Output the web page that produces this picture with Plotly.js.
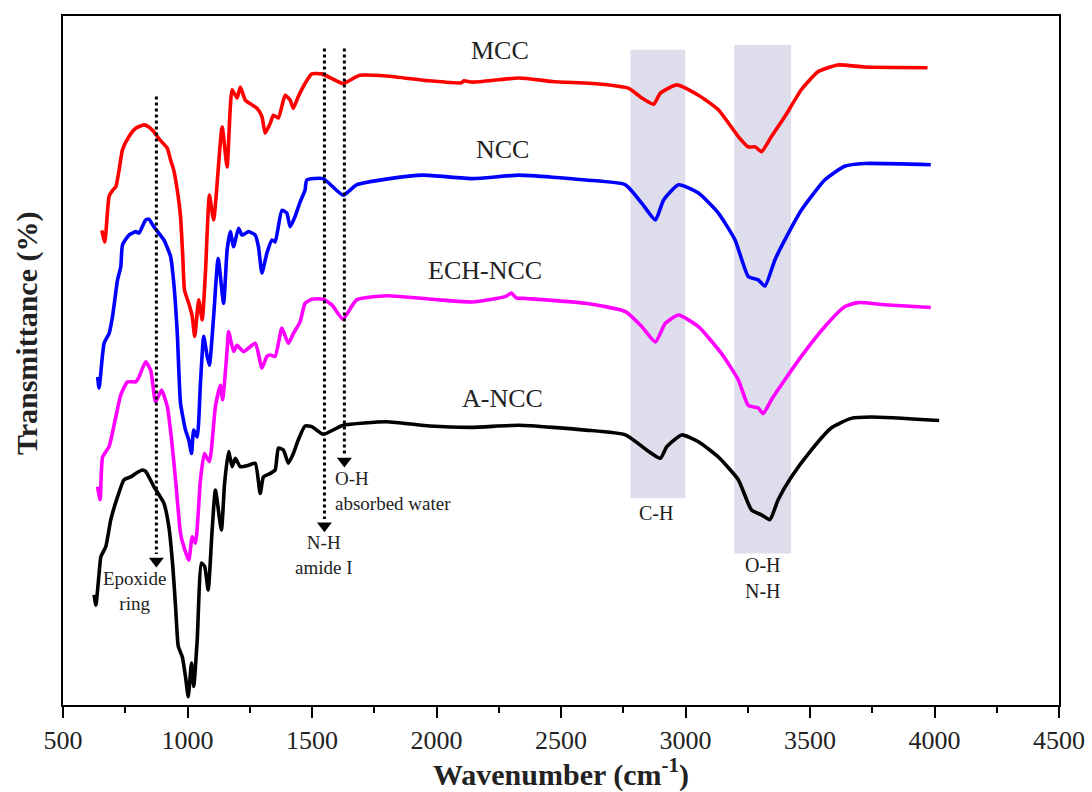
<!DOCTYPE html>
<html>
<head>
<meta charset="utf-8">
<script src="https://cdn.plot.ly/plotly-3.0.1.min.js"></script>
<style>html,body{margin:0;padding:0;background:#fff;}#chart{width:1092px;height:792px;}</style>
</head>
<body>
<div id="chart"></div>
<script>
// ---- Data (wavenumber cm-1, transmittance in arbitrary offset units) ----
const mccX = [656,668,685,699,712,725,739,765,792,825,845,865,885,919,932,945,959,972,981,988,1005,1019,1029,1045,1059,1072,1088,1105,1139,1159,1179,1199,1212,1232,1259,1279,1299,1312,1332,1345,1365,1392,1412,1425,1445,1472,1499,1539,1592,1625,1692,1799,1972,2100,2110,2145,2332,2465,2665,2772,2825,2872,2899,2965,3052,3132,3212,3252,3280,3305,3345,3399,3465,3532,3612,3719,3972];
const mccY = [68.9,67.2,73.8,74.7,75.2,77.6,80.6,82.5,83.7,84.2,83.9,83.2,82.2,80.8,79.1,77.6,74.7,70.9,65.1,60.2,58.3,56.4,53.5,58.8,55.9,62.7,74.0,70.4,83.9,78.1,89.3,88.1,89.7,87.8,87.1,86.6,85.4,83.0,84.4,85.6,85.2,88.5,87.8,86.6,88.3,90.2,91.6,91.6,90.7,90.2,91.4,91.3,90.6,90.3,90.6,90.4,91.0,90.5,90.1,89.5,88.1,87.2,88.8,90.0,88.5,86.4,82.5,81.0,81.0,80.3,82.5,85.4,89.3,91.9,92.9,92.6,92.5];

const nccX = [639,645,665,685,699,719,732,739,765,792,805,832,845,865,905,932,945,959,972,992,1005,1016,1025,1039,1052,1065,1079,1088,1105,1123,1145,1159,1172,1185,1205,1219,1245,1272,1285,1299,1319,1339,1352,1379,1399,1412,1432,1452,1472,1479,1545,1625,1679,1812,1945,2145,2332,2599,2759,2825,2879,2912,2972,3052,3132,3199,3252,3292,3319,3359,3399,3465,3559,3639,3719,3985];
const nccY = [47.6,46.0,52.5,53.9,56.4,61.7,63.6,66.8,68.2,68.7,68.5,70.4,70.5,69.4,67.5,65.1,61.2,53.9,43.8,39.9,38.5,36.5,39.9,38.9,46.7,53.5,50.6,49.3,56.4,64.8,58.3,66.0,68.7,66.5,69.2,68.2,68.7,68.2,66.5,62.7,65.6,67.5,67.2,71.8,71.4,69.4,70.9,73.0,74.7,76.2,76.4,74.0,75.5,76.4,76.9,76.4,76.9,76.2,75.5,72.8,70.4,73.3,75.5,74.3,71.4,67.5,62.2,61.7,60.8,64.6,67.5,71.8,76.2,78.2,78.6,78.4];

const echX = [639,649,659,685,712,732,759,792,805,832,852,872,896,919,936,952,972,985,1005,1019,1032,1052,1068,1088,1112,1132,1141,1159,1165,1185,1199,1225,1272,1299,1319,1332,1352,1379,1405,1425,1452,1472,1499,1545,1579,1624,1679,1799,2012,2145,2279,2300,2320,2359,2599,2759,2825,2879,2919,2972,3052,3145,3212,3252,3292,3312,3345,3399,3465,3559,3639,3692,3799,3985];
const echY = [31.7,29.8,36.0,37.5,41.8,45.0,46.9,46.9,47.6,49.8,48.6,44.0,45.7,43.3,38.5,32.7,24.9,23.0,21.0,24.4,23.5,32.7,36.5,35.3,43.3,46.4,44.3,51.5,54.2,51.3,52.2,51.3,52.5,48.9,50.6,50.8,50.6,54.7,52.5,53.9,55.6,58.3,58.9,58.9,58.1,56.0,58.8,59.4,58.8,58.5,59.3,59.8,59.1,59.0,58.3,57.1,54.9,52.7,55.4,56.6,54.9,51.0,47.2,43.5,43.1,42.3,44.3,47.2,50.6,54.9,57.8,58.4,58.1,57.7];

const ancX = [625,632,645,652,672,692,719,745,772,792,819,832,865,905,925,941,952,963,979,992,1003,1016,1025,1039,1056,1069,1083,1099,1112,1136,1149,1165,1179,1192,1212,1245,1272,1292,1305,1332,1352,1365,1385,1405,1425,1445,1472,1499,1545,1625,1799,1972,2145,2332,2599,2759,2852,2899,2925,2985,3052,3132,3212,3265,3305,3339,3372,3425,3505,3585,3665,3745,4019];
const ancY = [16.0,14.5,19.1,21.5,23.0,26.9,30.2,32.7,33.1,33.6,34.1,33.9,31.7,29.3,25.9,20.1,14.3,8.5,7.0,4.1,1.2,6.1,2.7,9.4,20.6,20.1,16.7,25.4,31.2,25.4,32.2,36.8,34.6,35.8,34.6,34.8,35.1,30.7,33.1,33.6,34.1,37.3,37.0,35.1,36.5,38.5,40.5,40.4,39.3,40.6,41.1,40.5,40.3,40.6,39.9,39.2,36.8,35.8,37.5,39.2,38.2,36.0,32.7,28.3,27.6,26.9,29.8,33.1,37.0,40.2,41.6,41.8,41.3];

const seriesNames = ["MCC","NCC","ECH-NCC","A-NCC"];
const seriesColors = ["#ff0000","#0000ff","#ff00ff","#000000"];
const seriesLabelX = [2254,2265,2195,2264];
const seriesLabelY = [95.0,80.6,63.1,44.5];

// shaded bands [x0,x1,y0,y1]
const bandCH = [2779,2999,30.0,95.1];
const bandOH = [3196,3424,22.0,95.8];

// dotted marker arrows: wavenumber, top, tip
const arrowX = [875,1550,1630];
const arrowTop = [88.3,95.3,95.3];
const arrowTip = [19.9,25.0,34.4];

const xTicks = [500,1000,1500,2000,2500,3000,3500,4000,4500];

// ---- Build ----
const xs = [mccX,nccX,echX,ancX];
const ys = [mccY,nccY,echY,ancY];
const traces = xs.map((x,i)=>({
  x:x, y:ys[i], type:'scatter', mode:'lines', name:seriesNames[i],
  line:{color:seriesColors[i], width:3.6, shape:'spline', smoothing:0.5}, showlegend:false, hoverinfo:'skip'
}));
// arrow heads (triangle markers sit just above each tip)
traces.push({
  x:arrowX, y:arrowTip.map(v=>v+1.0), type:'scatter', mode:'markers', showlegend:false, hoverinfo:'skip',
  marker:{symbol:'triangle-down', size:13, color:'#000', line:{width:0}}
});

const serif = "'Liberation Serif','Times New Roman',serif";
const shapes = [];
[bandCH,bandOH].forEach(b=>{
  shapes.push({type:'rect', xref:'x', yref:'y', x0:b[0], x1:b[1], y0:b[2], y1:b[3],
    fillcolor:'rgba(200,200,225,0.62)', line:{width:0}, layer:'below'});
});
arrowX.forEach((x,i)=>{
  shapes.push({type:'line', xref:'x', yref:'y', x0:x, x1:x, y0:arrowTop[i], y1:arrowTip[i]+2,
    line:{color:'#000', width:3, dash:'3px,3px'}});
});

const annotations = [];
seriesNames.forEach((n,i)=>{
  annotations.push({x:seriesLabelX[i], y:seriesLabelY[i], xref:'x', yref:'y', text:n, showarrow:false,
    font:{family:serif, size:26, color:'#222'}, xanchor:'center', yanchor:'middle'});
});
const small = {family:serif, size:19, color:'#222'};
annotations.push({x:788, y:16.5, xref:'x', yref:'y', text:'Epoxide<br>ring', showarrow:false, font:small, align:'center', xanchor:'center', yanchor:'middle'});
annotations.push({x:1548, y:21.7, xref:'x', yref:'y', text:'N-H<br>amide I', showarrow:false, font:small, align:'center', xanchor:'center', yanchor:'middle'});
annotations.push({x:1584, y:31.1, xref:'x', yref:'y', text:'O-H<br>absorbed water', showarrow:false, font:small, align:'left', xanchor:'left', yanchor:'middle'});
annotations.push({x:2882, y:27.8, xref:'x', yref:'y', text:'C-H', showarrow:false, font:{family:serif,size:20,color:'#222'}, xanchor:'center', yanchor:'middle'});
annotations.push({x:3312, y:18.4, xref:'x', yref:'y', text:'O-H<br>N-H', showarrow:false, font:{family:serif,size:20,color:'#222'}, align:'center', xanchor:'center', yanchor:'middle'});
// y-axis title placed as in the reference
annotations.push({x:-0.036, y:0.54, xref:'paper', yref:'paper', text:'<b>Transmittance (%)</b>', textangle:-90,
  showarrow:false, font:{family:serif, size:30, color:'#222'}, xanchor:'center', yanchor:'middle'});

const layout = {
  width:1092, height:792,
  margin:{l:63, r:33, t:16, b:87},
  paper_bgcolor:'#fff', plot_bgcolor:'#fff',
  showlegend:false,
  xaxis:{
    range:[500,4500], tickvals:xTicks, ticktext:xTicks.map(String),
    ticks:'outside', ticklen:11, tickwidth:2, tickcolor:'#000',
    minor:{dtick:250, tick0:500, ticks:'outside', ticklen:6, tickwidth:2, tickcolor:'#000'},
    showline:true, linewidth:2, linecolor:'#000', mirror:true, showgrid:false, zeroline:false,
    tickfont:{family:serif, size:26, color:'#222'},
    title:{text:'<b>Wavenumber (cm<sup>-1</sup>)</b>', font:{family:serif, size:30, color:'#222'}, standoff:8}
  },
  yaxis:{
    range:[0,100], showticklabels:false, ticks:'', showgrid:false, zeroline:false,
    showline:true, linewidth:2, linecolor:'#000', mirror:true
  },
  shapes:shapes,
  annotations:annotations
};

Plotly.newPlot('chart', traces, layout, {staticPlot:true, displayModeBar:false});
</script>
</body>
</html>
